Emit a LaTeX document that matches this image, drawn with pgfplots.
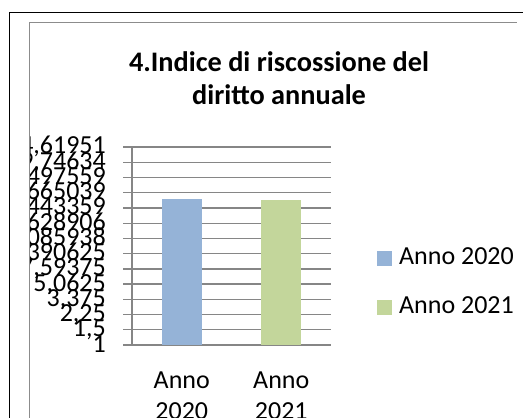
\documentclass[border=0pt]{standalone}
\usepackage{pgfplots}
\pgfplotsset{compat=1.18}
\usepackage{fontspec}
\setmainfont{Carlito}
\definecolor{barA}{HTML}{95B3D7}
\definecolor{barB}{HTML}{C3D69B}
\definecolor{gridc}{HTML}{868686}
\definecolor{framec}{HTML}{8C8C8C}
\begin{document}
\begin{tikzpicture}[x=1bp,y=1bp]
\useasboundingbox (0,0) rectangle (523,417);
\begin{scope}
\clip (29.8,-10) rectangle (517,417);
\begin{axis}[
  at={(132bp,72bp)}, anchor=south west, scale only axis,
  width=199bp, height=198bp,
  ymode=log, ymin=1, ymax=194.6195068359375,
  xmin=-0.5, xmax=1.5,
  ybar, bar width=40bp,
  axis x line*=bottom, axis y line*=left,
  axis line style={gridc, line width=1.3bp},
  xtick={0,1}, xticklabels={{Anno\\2020},{Anno\\2021}},
  xtick style={draw=none},
  xticklabel style={align=center, anchor=north, inner sep=0pt, yshift=-18bp,
    font=\fontsize{26bp}{31bp}\selectfont},
  ytick={1,1.5,2.25,3.375,5.0625,7.59375,11.390625,17.0859375,25.62890625,38.443359375,57.6650390625,86.49755859375,129.746337890625,194.6195068359375},
  yticklabels={1,{1,5},{2,25},{3,375},{5,0625},{7,59375},{11,390625},{17,085938},{25,628906},{38,443359},{57,665039},{86,497559},{129,74634},{194,61951}},
  yminorticks=false,
  ytick style={gridc, line width=1.3bp},
  tick align=outside, major tick length=9bp,
  yticklabel style={anchor=base east, inner sep=0pt, xshift=-17bp, yshift=-7bp,
    font=\fontsize{26bp}{31bp}\selectfont},
  ymajorgrids, grid style={gridc, line width=1.3bp},
  legend style={at={(1.216,0.503)}, anchor=north west, draw=none, fill=none,
    font=\fontsize{26bp}{31bp}\selectfont, row sep=31bp,
    nodes={inner sep=0pt},
    /tikz/every odd column/.style={column sep=7bp}},
  legend cell align=left,
]
\addplot[fill=barA, draw=none, bar shift=0pt,
  legend image code/.code={\fill[barA] (-3bp,-9bp) rectangle (12bp,6bp);}]
  coordinates {(0,48.4)};
\addlegendentry{Anno 2020}
\addplot[fill=barB, draw=none, bar shift=0pt,
  legend image code/.code={\fill[barB] (-3bp,-9bp) rectangle (12bp,6bp);}]
  coordinates {(1,47.1)};
\addlegendentry{Anno 2021}
\end{axis}
\end{scope}
\node[anchor=base, font=\fontsize{28.3bp}{33bp}\selectfont\bfseries] at (279,346) {4.Indice di riscossione del};
\node[anchor=base, font=\fontsize{28.3bp}{33bp}\selectfont\bfseries] at (279,313) {diritto annuale};
\draw[black, line width=0.8bp] (9.3,-10) -- (9.3,405) -- (530,405);
\draw[framec, line width=0.8bp] (29.3,-10) -- (29.3,395) -- (516.7,395);
\end{tikzpicture}
\end{document}
